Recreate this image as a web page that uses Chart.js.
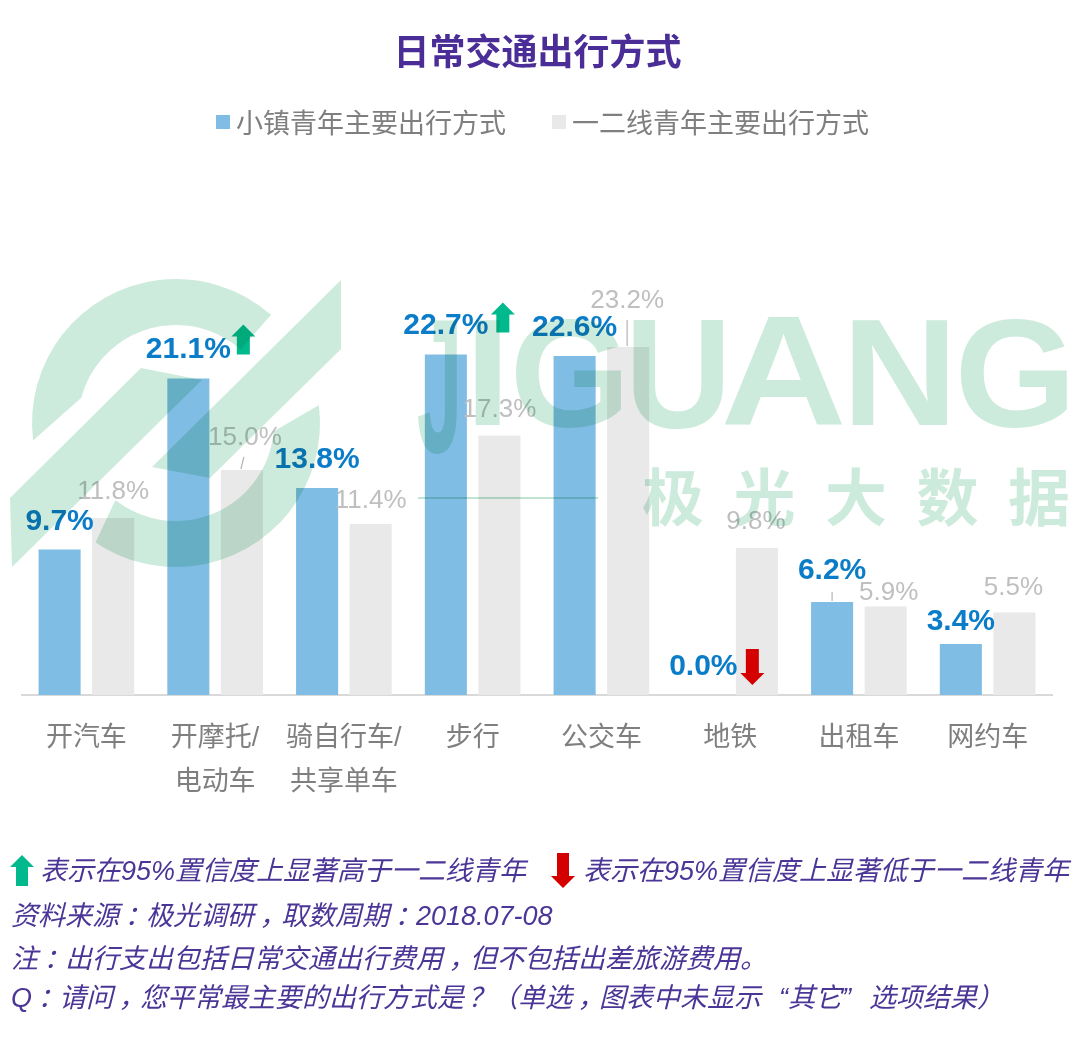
<!DOCTYPE html>
<html>
<head>
<meta charset="utf-8">
<title>日常交通出行方式</title>
<script src="https://cdn.jsdelivr.net/npm/chart.js@4"></script>
<style>
  body { margin: 0; background: #fff; font-family: "Liberation Sans", "Noto Sans CJK SC", sans-serif; }
  #wrap { position: relative; width: 1080px; height: 1040px; overflow: hidden; }
  #chart { position: absolute; left: 0; top: 0; }
  .abs { position: absolute; white-space: nowrap; line-height: 40px; }
  #title { left: 0; width: 1075px; top: 33px; text-align: center; font-size: 36px; font-weight: bold; color: #4a2d96; }
  .legend-box { position: absolute; top: 115px; width: 14px; height: 14px; }
  .legend-text { top: 104px; font-size: 27px; color: #7f7f7f; }
  .note { font-size: 27px; font-style: italic; color: #4b3596; text-spacing-trim: space-all; }
  .punct { position: relative; left: 0.2em; }
  .punct2 { position: relative; left: 0.15em; }
  .qo, .qc { display: inline-block; width: 1em; }
  .qo { text-align: right; }
  .qc { text-align: left; }
</style>
</head>
<body>
<div id="wrap">
  <canvas id="chart" width="1080" height="1040"></canvas>
  <div id="title" class="abs">日常交通出行方式</div>
  <div id="legend"></div>

  <svg class="abs" style="left:10px;top:855px" width="24" height="32" viewBox="0 0 24 32"><path d="M12 0 L24 12 L18 12 L18 31 L6 31 L6 12 L0 12 Z" fill="#00b98d"/></svg>
  <div class="abs note" style="left:40px;top:851px">表示在95%置信度上显著高于一二线青年</div>
  <svg class="abs" style="left:551px;top:853px" width="24" height="36" viewBox="0 0 24 36"><path d="M6 0 L18 0 L18 23 L24 23 L12 35 L0 23 L6 23 Z" fill="#d40000"/></svg>
  <div class="abs note" style="left:583px;top:851px">表示在95%置信度上显著低于一二线青年</div>
  <div class="abs note" style="left:11px;top:896px">资料来源：极光调研，取数周期：2018.07-08</div>
  <div class="abs note" style="left:11px;top:939px">注：出行支出包括日常交通出行费用，但不包括出差旅游费用。</div>
  <div class="abs note" style="left:11px;top:978px">Q：请问，您平常最主要的出行方式是？（单选，图表中未显示“其它”选项结果）</div>
</div>

<script>
const labels = ['开汽车', ['开摩托/', '电动车'], ['骑自行车/', '共享单车'], '步行', '公交车', '地铁', '出租车', '网约车'];
const town = [9.7, 21.1, 13.8, 22.7, 22.6, 0.0, 6.2, 3.4];
const city = [11.8, 15.0, 11.4, 17.3, 23.2, 9.8, 5.9, 5.5];

// label position, as [dx, dy] from the top centre of the bar
const townOffsets = [[0, -28], [0, -29], [0, -28], [0, -29], [0, -28], [0, -28], [0, -31], [0, -22]];
const cityOffsets = [[0, -26], [3, -32], [0, -23], [0, -26], [-1, -46], [-1, -26], [3, -14], [-1, -25]];

// significance arrows: bar index, direction, dx from bar centre, top and bottom from bar top
const arrows = [
    { i: 1, up: true, dx: 55, top: -54, bottom: -24 },
    { i: 3, up: true, dx: 57, top: -52, bottom: -22 },
    { i: 5, up: false, dx: 49, top: -46, bottom: -10 }
];

const SANS = '"Liberation Sans", "Noto Sans CJK SC", sans-serif';

// full width punctuation sits in the middle of its cell in the reference
document.querySelectorAll('.note').forEach(n => {
    n.innerHTML = n.textContent
        .replace(/[：，]/g, m => `<span class="punct">${m}</span>`)
        .replace(/？/g, '<span class="punct2">？</span>')
        .replace(/“/g, '<span class="qo">“</span>')
        .replace(/”/g, '<span class="qc">”</span>');
});

function drawArrow(ctx, x, top, bottom, up) {
    const headH = 12, headW = 12, shaft = 6.5;
    ctx.fillStyle = up ? '#00b98d' : '#d40000';
    ctx.beginPath();
    if (up) {
        ctx.moveTo(x, top);
        ctx.lineTo(x + headW, top + headH);
        ctx.lineTo(x + shaft, top + headH);
        ctx.lineTo(x + shaft, bottom);
        ctx.lineTo(x - shaft, bottom);
        ctx.lineTo(x - shaft, top + headH);
        ctx.lineTo(x - headW, top + headH);
    } else {
        ctx.moveTo(x, bottom);
        ctx.lineTo(x + headW, bottom - headH);
        ctx.lineTo(x + shaft, bottom - headH);
        ctx.lineTo(x + shaft, top);
        ctx.lineTo(x - shaft, top);
        ctx.lineTo(x - shaft, bottom - headH);
        ctx.lineTo(x - headW, bottom - headH);
    }
    ctx.closePath();
    ctx.fill();
}

function drawLine(ctx, x1, y1, x2, y2) {
    ctx.strokeStyle = '#b5b5b5';
    ctx.lineWidth = 1.2;
    ctx.beginPath();
    ctx.moveTo(x1, y1);
    ctx.lineTo(x2, y2);
    ctx.stroke();
}

// stretch one letter so its ink fills the box
function fitLetter(ctx, ch, x0, x1, y0, y1) {
    const m = ctx.measureText(ch);
    const w = m.actualBoundingBoxLeft + m.actualBoundingBoxRight;
    const h = m.actualBoundingBoxAscent + m.actualBoundingBoxDescent;
    ctx.save();
    ctx.translate(x0, y0);
    ctx.scale((x1 - x0) / w, (y1 - y0) / h);
    ctx.fillText(ch, m.actualBoundingBoxLeft, m.actualBoundingBoxAscent);
    ctx.restore();
}

function drawWatermark(ctx, width, height) {
    // everything goes on a layer first so overlapping parts do not darken twice
    const layer = document.createElement('canvas');
    layer.width = width;
    layer.height = height;
    const g = layer.getContext('2d');
    g.fillStyle = '#cdebdc';

    // logo
    const cx = 176, cy = 423, R = 144, r = 98;
    const rad = d => d * Math.PI / 180;
    // upper arc
    g.beginPath();
    g.arc(cx, cy, R, rad(173), rad(-48.7 + 360));
    g.arc(cx, cy, r, rad(-48.7 + 360), rad(195), true);
    g.closePath();
    g.fill();
    // lower arc
    g.beginPath();
    g.moveTo(319, 405);
    g.arc(cx, cy, R, rad(-7), rad(124));
    g.lineTo(114, 503);
    g.arc(cx, cy, r, rad(128), rad(5), true);
    g.closePath();
    g.fill();
    // the two diagonal bands
    g.beginPath();
    g.moveTo(10, 498); g.lineTo(141, 368); g.lineTo(202, 380); g.lineTo(12, 567); g.closePath();
    g.fill();
    g.beginPath();
    g.moveTo(341, 280); g.lineTo(341, 349); g.lineTo(210, 478); g.lineTo(152, 467); g.closePath();
    g.fill();

    // brand name
    g.font = 'bold 145px ' + SANS;
    g.textAlign = 'left';
    g.textBaseline = 'alphabetic';
    const letters = [
        ['J', 418, 457, 320, 453], ['I', 475, 500, 320, 425], ['G', 515, 621, 318, 428], ['U', 633, 723, 320, 428],
        ['A', 724, 842, 317, 425], ['N', 852, 947, 320, 425], ['G', 960, 1067, 318, 428]
    ];
    letters.forEach(l => fitLetter(g, l[0], l[1], l[2], l[3], l[4]));

    g.font = 'bold 62px "Noto Sans CJK SC", sans-serif';
    g.textAlign = 'center';
    g.textBaseline = 'middle';
    ['极', '光', '大', '数', '据'].forEach((c, i) => g.fillText(c, 673 + i * 91.5, 497));

    g.strokeStyle = '#a9dcc3';
    g.lineWidth = 1.5;
    g.beginPath();
    g.moveTo(418, 498);
    g.lineTo(598, 498);
    g.stroke();

    ctx.save();
    ctx.globalCompositeOperation = 'multiply';
    ctx.drawImage(layer, 0, 0, width, height);
    ctx.restore();
}

const annotations = {
    id: 'annotations',
    beforeDraw(chart) {
        chart.ctx.save();
        chart.ctx.fillStyle = '#fff';
        chart.ctx.fillRect(0, 0, chart.width, chart.height);
        chart.ctx.restore();
    },
    afterDraw(chart) {
        const ctx = chart.ctx;
        const townBars = chart.getDatasetMeta(0).data;
        const cityBars = chart.getDatasetMeta(1).data;
        ctx.save();

        // leader lines
        drawLine(ctx, cityBars[1].x - 1, cityBars[1].y - 1, cityBars[1].x + 2, cityBars[1].y - 13);
        drawLine(ctx, cityBars[4].x - 1, cityBars[4].y - 1, cityBars[4].x - 1, cityBars[4].y - 27);
        drawLine(ctx, townBars[6].x, townBars[6].y - 1, townBars[6].x, townBars[6].y - 10);

        ctx.textAlign = 'center';
        ctx.textBaseline = 'middle';
        ctx.font = '26px ' + SANS;
        ctx.fillStyle = '#bfbfbf';
        cityBars.forEach((bar, i) => {
            ctx.fillText(city[i].toFixed(1) + '%', bar.x + cityOffsets[i][0], bar.y + cityOffsets[i][1]);
        });
        ctx.font = 'bold 30px ' + SANS;
        ctx.fillStyle = '#0a7cc8';
        townBars.forEach((bar, i) => {
            ctx.fillText(town[i].toFixed(1) + '%', bar.x + townOffsets[i][0], bar.y + townOffsets[i][1]);
        });

        arrows.forEach(a => {
            const bar = townBars[a.i];
            drawArrow(ctx, bar.x + a.dx, bar.y + a.top, bar.y + a.bottom, a.up);
        });
        ctx.restore();
        drawWatermark(ctx, chart.width, chart.height);
    }
};

const chart = new Chart(document.getElementById('chart'), {
    type: 'bar',
    data: {
        labels: labels,
        datasets: [
            { label: '小镇青年主要出行方式', data: town, backgroundColor: '#7fbde4', categoryPercentage: 0.832, barPercentage: 0.785 },
            { label: '一二线青年主要出行方式', data: city, backgroundColor: '#e9e9e9', categoryPercentage: 0.832, barPercentage: 0.785 }
        ]
    },
    options: {
        responsive: false,
        animation: false,
        layout: { padding: { left: 22, right: 28, top: 170, bottom: 0 } },
        plugins: { legend: { display: false }, title: { display: false }, tooltip: { enabled: false } },
        scales: {
            x: {
                grid: { display: false },
                border: { color: '#d9d9d9', width: 2 },
                afterFit: scale => { scale.height = 345; },
                ticks: {
                    color: '#7f7f7f',
                    padding: 13,
                    maxRotation: 0,
                    autoSkip: false,
                    font: { family: SANS, size: 27, lineHeight: 1.65 }
                }
            },
            y: { display: false, min: 0, max: 35 }
        }
    },
    plugins: [annotations]
});

// legend built from the datasets
const legendPos = [[216, 236], [552, 572]];
const legend = document.getElementById('legend');
chart.data.datasets.forEach((ds, i) => {
    const box = document.createElement('div');
    box.className = 'legend-box';
    box.style.left = legendPos[i][0] + 'px';
    box.style.background = ds.backgroundColor;
    legend.appendChild(box);
    const text = document.createElement('div');
    text.className = 'abs legend-text';
    text.style.left = legendPos[i][1] + 'px';
    text.textContent = ds.label;
    legend.appendChild(text);
});
</script>
</body>
</html>
